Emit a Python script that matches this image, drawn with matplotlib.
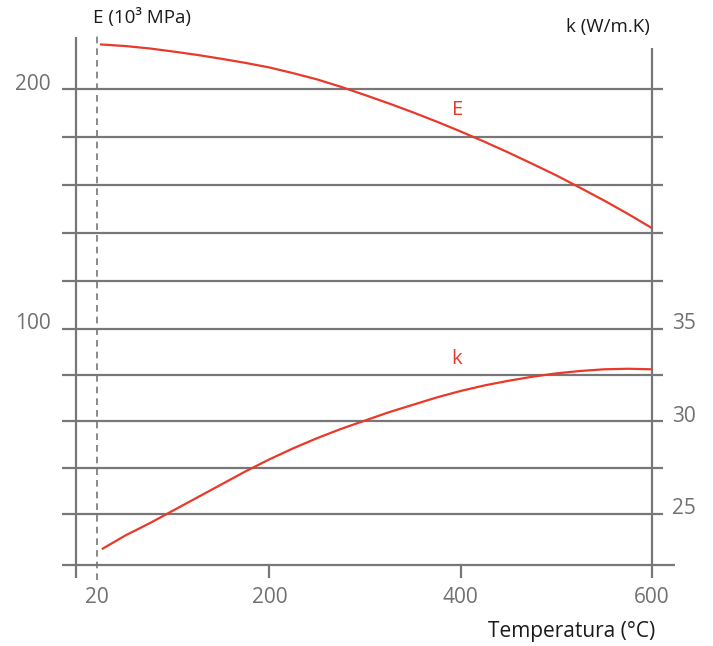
import numpy as np
import matplotlib
matplotlib.use("Agg")
import matplotlib.pyplot as plt

plt.rcParams['font.family'] = ['Open Sans', 'DejaVu Sans']

# temperature (°C) vs elastic modulus E (10^3 MPa)
temp_E = [23, 50, 75, 100, 125, 150, 175, 200, 225, 250, 275, 300, 325,
          350, 375, 400, 425, 450, 475, 500, 525, 550, 575, 600]
E_vals = [218.6, 217.9, 216.9, 215.6, 214.2, 212.6, 210.9, 209.0, 206.6,
          204.0, 200.9, 197.5, 194.0, 190.3, 186.4, 182.3, 178.0, 173.5,
          168.8, 164.0, 158.8, 153.5, 147.9, 142.0]

# temperature (°C) vs thermal conductivity k (W/m.K)
temp_k = [25, 50, 75, 100, 125, 150, 175, 200, 225, 250, 275, 300, 325,
          350, 375, 400, 425, 450, 475, 500, 525, 550, 575, 600]
k_vals = [23.1, 23.85, 24.5, 25.2, 25.9, 26.6, 27.3, 27.95, 28.55, 29.1,
          29.6, 30.05, 30.5, 30.9, 31.3, 31.65, 31.95, 32.2, 32.42, 32.6,
          32.73, 32.82, 32.85, 32.82]

x_ticks = [20, 200, 400, 600]
E_ticks = [100, 200]
E_grid = [200, 180, 160, 140, 120]
k_ticks = [35, 30, 25]
k_grid = [35, 32.5, 30, 27.5, 25]

RED = '#e8392a'
GRAY = '#707070'
LINE = '#777777'

fig = plt.figure(figsize=(7.13, 6.46), dpi=100)
ax = fig.add_axes([0, 0, 1, 1])
ax.set_xlim(-81.4, 663.6)
ax.set_ylim(-32.1, 237.1)
ax.axis('off')
ax2 = ax.twinx()
ax2.set_ylim(17.865, 52.78)
ax2.axis('off')

x_left, x_right, x_end = -16.6, 611.4, 624
e_base, e_low = 1.7, -3.7

# horizontal lines
ax.hlines(E_grid, x_left, x_right, color=LINE, lw=1.6)
ax2.hlines(k_grid, x_left, x_right, color=LINE, lw=1.6)
ax.hlines(e_base, x_left, x_end, color=LINE, lw=1.6)

# frame
ax.vlines(-2, e_low, 221.7, color=LINE, lw=1.6)
ax.vlines(600, e_low, 217.1, color=LINE, lw=1.6)
ax.vlines([200, 400], e_low, e_base, color=LINE, lw=1.6)
ax.vlines(20, -4.6, 222.5, color=LINE, lw=1.2, linestyles=(0, (4, 3)))

# curves
ax.plot(temp_E, E_vals, color=RED, lw=1.6, solid_capstyle='butt')
ax2.plot(temp_k, k_vals, color=RED, lw=1.6, solid_capstyle='butt')

ax.text(397, 191.3, 'E', color=RED, fontsize=14.5, ha='center', va='center')
ax2.text(396, 33.4, 'k', color=RED, fontsize=14.5, ha='center', va='center')

# tick labels
for v in E_ticks:
    ax.annotate(str(v), xy=(-2, v), xytext=(-25, 5), textcoords='offset pixels',
                ha='right', va='center', color=GRAY, fontsize=15)
for v in k_ticks:
    ax2.annotate(str(v), xy=(600, v), xytext=(20, 5), textcoords='offset pixels',
                 ha='left', va='center', color=GRAY, fontsize=15)
for v in x_ticks:
    ax.annotate(str(v), xy=(v, e_base), xytext=(0, -33), textcoords='offset pixels',
                ha='center', va='center', color=GRAY, fontsize=15)

# axis titles
fig.text(93 / 713, 1 - 18 / 646, 'E (10³ MPa)', ha='left', va='center',
         fontsize=13.5, color='#1a1a1a')
fig.text(650 / 713, 1 - 27 / 646, 'k (W/m.K)', ha='right', va='center',
         fontsize=13.5, color='#1a1a1a')
fig.text(655 / 713, 1 - 632 / 646, 'Temperatura (°C)', ha='right', va='center',
         fontsize=15, color='#1a1a1a')

fig.savefig('out.png', dpi=100)
